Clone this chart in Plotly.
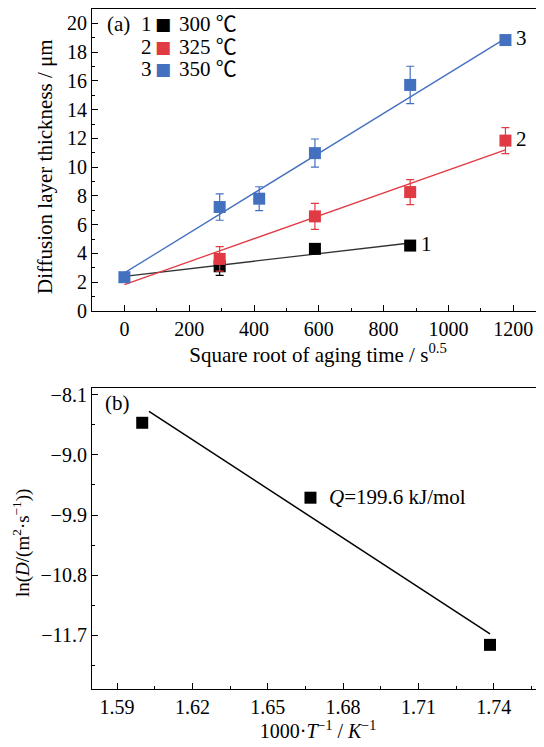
import plotly.graph_objects as go

# ---------- data: panel (a) ----------
x_black = [294, 588, 882]
y_black = [3.11, 4.32, 4.55]
e_black = [0.63, 0.0, 0.0]

x_red = [294, 588, 882, 1176]
y_red = [3.62, 6.58, 8.27, 11.85]
e_red = [0.85, 0.90, 0.87, 0.90]

x_blue = [0, 294, 416, 588, 882, 1176]
y_blue = [2.35, 7.23, 7.81, 10.98, 15.72, 18.84]
e_blue = [0.0, 0.92, 0.83, 0.98, 1.30, 0.25]

fit_black_x = [0, 882]
fit_black_y = [2.41, 4.73]
fit_red_x = [0, 1176]
fit_red_y = [1.84, 11.20]
fit_blue_x = [0, 1176]
fit_blue_y = [2.65, 18.96]

series_names = ["300 ℃", "325 ℃", "350 ℃"]
series_ids = ["1", "2", "3"]

# ---------- data: panel (b) ----------
inv_T = [1.600, 1.667, 1.7385]
lnD = [-8.52, -9.64, -11.84]
fit_b_x = [1.6027, 1.7385]
fit_b_y = [-8.35, -11.675]

x_ticks_a = [0, 200, 400, 600, 800, 1000, 1200]
y_ticks_a = [0, 2, 4, 6, 8, 10, 12, 14, 16, 18, 20]
x_ticks_b = [1.59, 1.62, 1.65, 1.68, 1.71, 1.74]
y_ticks_b = [-8.1, -9.0, -9.9, -10.8, -11.7]

BLACK = "#000000"
RED = "#E03A44"
BLUE = "#4470C0"
FONT = "Liberation Serif, Times New Roman, Noto Sans CJK SC, serif"
SQ_FONT = "DejaVu Sans, sans-serif"
colors = [BLACK, RED, BLUE]

# the page body has an 8px margin; figure is sized so it ends at the window edge
OFF = 8
W, H = 536, 739
ML, MR, MT, MB = 84, 0, 1, 58
PW = W - ML - MR
PH = H - MT - MB


def px(xp):
    """page x pixel -> paper fraction"""
    return (xp - OFF - ML) / PW


def py(yp):
    """page y pixel -> paper fraction"""
    return (H - MB - (yp - OFF)) / PH


fig = go.Figure()

# fit lines (panel a)
for fx, fy, col in [(fit_black_x, fit_black_y, "#333333"),
                    (fit_red_x, fit_red_y, RED),
                    (fit_blue_x, fit_blue_y, BLUE)]:
    fig.add_trace(go.Scatter(x=fx, y=fy, mode="lines", line=dict(color=col, width=1.3),
                             showlegend=False, hoverinfo="skip", xaxis="x", yaxis="y"))

# points (panel a)
for xs, ys, es, col, name in [(x_black, y_black, e_black, BLACK, series_names[0]),
                              (x_red, y_red, e_red, RED, series_names[1]),
                              (x_blue, y_blue, e_blue, BLUE, series_names[2])]:
    fig.add_trace(go.Scatter(
        x=xs, y=ys, mode="markers", name=name, showlegend=False,
        marker=dict(symbol="square", size=12, color=col, line=dict(width=0)),
        error_y=dict(type="data", array=es, visible=True, color=col, thickness=1.2, width=4),
        xaxis="x", yaxis="y"))

# panel b
fig.add_trace(go.Scatter(x=fit_b_x, y=fit_b_y, mode="lines", line=dict(color=BLACK, width=1.5),
                         showlegend=False, hoverinfo="skip", xaxis="x2", yaxis="y2"))
fig.add_trace(go.Scatter(x=inv_T, y=lnD, mode="markers",
                         marker=dict(symbol="square", size=12, color=BLACK),
                         showlegend=False, xaxis="x2", yaxis="y2"))

TICK = 20
TITLE = 21
axis_common = dict(showline=True, linecolor=BLACK, linewidth=1.2, ticks="inside",
                   ticklen=6, tickwidth=1.2, tickcolor=BLACK, showgrid=False, zeroline=False,
                   automargin=False,
                   tickfont=dict(family=FONT, size=TICK, color=BLACK))

top_bottom = py(311)
bot_top = py(388)

fig.update_layout(
    width=W, height=H,
    margin=dict(l=ML, r=MR, t=MT, b=MB),
    paper_bgcolor="white", plot_bgcolor="white",
    font=dict(family=FONT, size=TITLE, color=BLACK),
    showlegend=False,
    xaxis=dict(domain=[0, 1], anchor="y", range=[-100, 1295], tickvals=x_ticks_a,
               mirror=True,
               minor=dict(dtick=100, tick0=0, ticks="inside", ticklen=3, tickcolor=BLACK),
               title=dict(text="Square root of aging time / s<sup>0.5</sup>",
                          font=dict(family=FONT, size=TITLE), standoff=1),
               **axis_common),
    yaxis=dict(domain=[top_bottom, 1], anchor="x", range=[0, 21], tickvals=y_ticks_a,
               minor=dict(dtick=1, tick0=0, ticks="inside", ticklen=3, tickcolor=BLACK),
               **axis_common),
    xaxis2=dict(domain=[0, 1], anchor="y2", range=[1.58, 1.76], tickvals=x_ticks_b,
                tickformat=".2f", mirror=True,
                minor=dict(dtick=0.015, tick0=1.59, ticks="inside", ticklen=3, tickcolor=BLACK),
                title=dict(text="1000·<i>T</i><sup>−1</sup> / <i>K</i><sup>−1</sup>",
                           font=dict(family=FONT, size=20), standoff=0),
                **axis_common),
    yaxis2=dict(domain=[0, bot_top], anchor="x2", range=[-12.5, -8.0], tickvals=y_ticks_b,
                tickformat=".1f",
                minor=dict(dtick=0.45, tick0=-8.1, ticks="inside", ticklen=3, tickcolor=BLACK),
                **axis_common),
)

ann = []
# y-axis titles
ann.append(dict(text="Diffusion layer thickness / μm", x=px(45), y=py(167),
                xref="paper", yref="paper", xanchor="center", yanchor="middle",
                textangle=-90, showarrow=False, font=dict(family=FONT, size=TITLE)))
ann.append(dict(text="ln(<i>D</i>/(m<sup>2</sup>·s<sup>−1</sup>))", x=px(21), y=py(543),
                xref="paper", yref="paper", xanchor="center", yanchor="middle",
                textangle=-90, showarrow=False, font=dict(family=FONT, size=19)))
ann.append(dict(text="(a)", x=px(118), y=py(24), xref="paper", yref="paper",
                xanchor="center", yanchor="middle",
                showarrow=False, font=dict(family=FONT, size=TITLE)))
ann.append(dict(text="(b)", x=px(117), y=py(403), xref="paper", yref="paper",
                xanchor="center", yanchor="middle",
                showarrow=False, font=dict(family=FONT, size=TITLE)))
# key rows: number, coloured square, temperature
for i, yy in enumerate([24, 46.7, 69.3]):
    ann.append(dict(text=series_ids[i], x=px(146), y=py(yy), xref="paper", yref="paper",
                    xanchor="center", yanchor="middle",
                    showarrow=False, font=dict(family=FONT, size=TITLE)))
    ann.append(dict(text="■", x=px(162.5), y=py(yy), xref="paper", yref="paper",
                    xanchor="center", yanchor="middle",
                    showarrow=False, font=dict(family=SQ_FONT, size=17, color=colors[i])))
    ann.append(dict(text=series_names[i], x=px(177), y=py(yy), xref="paper", yref="paper",
                    xanchor="left", yanchor="middle",
                    showarrow=False, font=dict(family=FONT, size=TITLE)))
end_labels = [(x_black[-1], y_black[-1]), (x_red[-1], y_red[-1]), (x_blue[-1], y_blue[-1])]
for i, (xe, ye) in enumerate(end_labels):
    ann.append(dict(text=series_ids[i], x=xe, y=ye, xref="x", yref="y", xshift=16,
                    yshift=2, xanchor="center", yanchor="middle",
                    showarrow=False, font=dict(family=FONT, size=TITLE)))
ann.append(dict(text="<i>Q</i>=199.6 kJ/mol", x=px(327), y=py(497), xref="paper",
                yref="paper", xanchor="left", yanchor="middle", showarrow=False,
                font=dict(family=FONT, size=TITLE)))
fig.update_layout(annotations=ann)

fig.write_html("out.html")
